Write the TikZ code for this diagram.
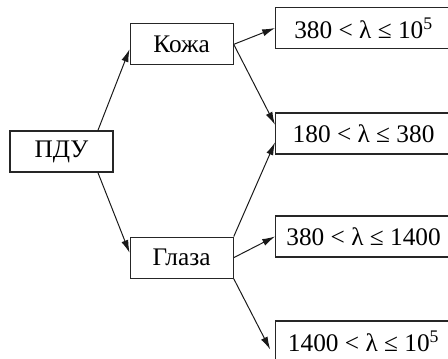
\documentclass[tikz,border=0pt]{standalone}
\usepackage{fontspec}
\setmainfont{Liberation Serif}
\usetikzlibrary{arrows.meta,positioning}

\begin{document}
\begin{tikzpicture}[
  x=0.025cm,y=-0.025cm,
  organ/.style={draw=black!85,line width=0.8pt,minimum width=25.75mm,
    minimum height=10.25mm,inner sep=0pt,font=\fontsize{18}{21}\selectfont},
  interval/.style={draw=black!85,line width=0.8pt,minimum width=44mm,
    minimum height=10.25mm,inner sep=0pt,anchor=west,
    font=\fontsize{18}{21}\selectfont},
  arrow/.style={-{Latex[length=3.2mm,width=1.8mm]},line width=0.7pt,draw=black!90}
]
\clip (0,0) rectangle (448,358);
\node[organ] (pdu) at (61.5,151.5) {ПДУ};
\node[organ, above right=16.25mm and 4mm of pdu] (kozha) {Кожа};
\node[organ, below right=16mm and 4mm of pdu] (glaza) {Глаза};
\node[interval] (r1) at (275,28) {380 < λ ≤ 10\textsuperscript{5}};
\node[interval] (r2) at (275,133.5) {180 < λ ≤ 380};
\node[interval] (r3) at (275,236.5) {380 < λ ≤ 1400};
\node[interval] (r4) at (275,341.5) {1400 < λ ≤ 10\textsuperscript{5}};
\draw[arrow] ([xshift=9.1mm]pdu.north) -- ([yshift=-1.2mm]kozha.west);
\draw[arrow] ([xshift=9.1mm]pdu.south) -- ([yshift=1.2mm]glaza.west);
\draw[arrow] (kozha.east) -- (r1.west);
\draw[arrow] (kozha.east) -- ([yshift=2.2mm]r2.west);
\draw[arrow] (glaza.north east) -- ([yshift=-2.2mm]r2.west);
\draw[arrow] (glaza.east) -- (r3.west);
\draw[arrow] (glaza.south east) -- ([shift={(-1.2mm,-2mm)}]r4.west);
\end{tikzpicture}
\end{document}
